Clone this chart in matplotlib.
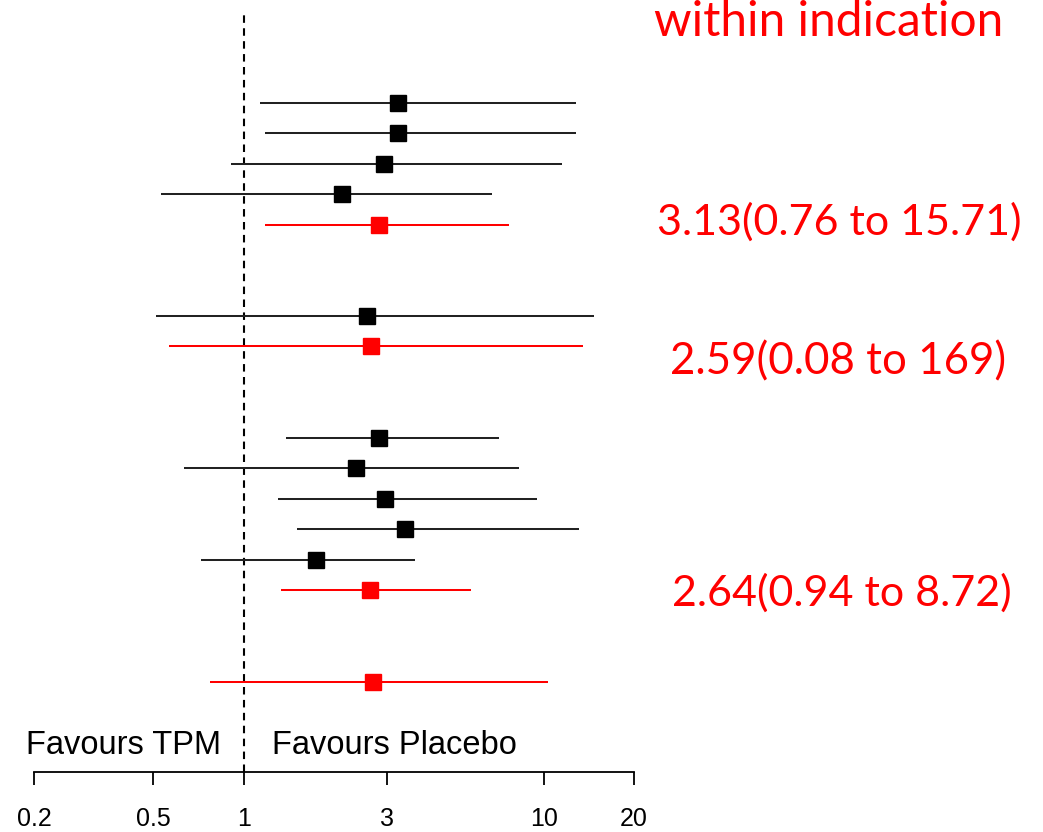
import matplotlib
matplotlib.use("Agg")
import matplotlib.pyplot as plt
import numpy as np

# ---- data ----
group_sizes = [4, 1, 5]          # studies per group, each followed by a pooled row
group1_est = [3.26, 3.26, 2.93, 2.13]
group1_lo = [1.13, 1.18, 0.91, 0.53]
group1_hi = [12.8, 12.8, 11.5, 6.74]
group1_pool = (2.82, 1.18, 7.68)

group2_est = [2.57]
group2_lo = [0.51]
group2_hi = [14.7]
group2_pool = (2.66, 0.564, 13.55)

group3_est = [2.82, 2.36, 2.96, 3.46, 1.74]
group3_lo = [1.38, 0.632, 1.30, 1.50, 0.72]
group3_hi = [7.08, 8.25, 9.52, 13.1, 3.73]
group3_pool = (2.63, 1.335, 5.72)

overall_pool = (2.70, 0.772, 10.36)

tick_values = [0.2, 0.5, 1, 3, 10, 20]
tick_labels = ["0.2", "0.5", "1", "3", "10", "20"]
header_text = "within indication"
group_texts = ["3.13(0.76 to 15.71)", "2.59(0.08 to 169)", "2.64(0.94 to 8.72)"]
left_label = "Favours TPM"
right_label = "Favours Placebo"

# ---- figure ----
W, H = 1043, 832
fig = plt.figure(figsize=(W / 100, H / 100), dpi=100)
ax_left = 34 / W
ax_w = 600 / W
ax_bottom = (H - 771.7) / H
ax_top = (H - 12) / H
ax = fig.add_axes([ax_left, ax_bottom, ax_w, ax_top - ax_bottom])

row_px0, row_step = 102.7, 30.47
k_top = (12 - row_px0) / row_step
k_bot = (771.7 - row_px0) / row_step

groups = [
    (group1_est, group1_lo, group1_hi, group1_pool),
    (group2_est, group2_lo, group2_hi, group2_pool),
    (group3_est, group3_lo, group3_hi, group3_pool),
]

LW = 1.45
MS = 12
k = 0
for est, lo, hi, pool in groups:
    for e, l, h in zip(est, lo, hi):
        ax.plot([l, h], [k, k], color="#222222", lw=LW, solid_capstyle="butt", zorder=2)
        ax.plot([e], [k], marker="s", ms=MS, color="black", mec="black", zorder=3)
        k += 1
    e, l, h = pool
    ax.plot([l, h], [k, k], color="#ff0000", lw=LW, solid_capstyle="butt", zorder=2)
    ax.plot([e], [k], marker="s", ms=MS, color="#ff0000", mec="#ff0000", zorder=3)
    k += 3
e, l, h = overall_pool
ax.plot([l, h], [k, k], color="#ff0000", lw=LW, solid_capstyle="butt", zorder=2)
ax.plot([e], [k], marker="s", ms=MS, color="#ff0000", mec="#ff0000", zorder=3)

ax.axvline(1, color="black", lw=1.5, dashes=(3.6, 2.6), zorder=1)

ax.set_xscale("log")
ax.set_xlim(0.2, 20)
ax.set_ylim(k_bot, k_top)
for s in ["top", "left", "right"]:
    ax.spines[s].set_visible(False)
ax.spines["bottom"].set_linewidth(1.3)
ax.set_yticks([])
ax.xaxis.set_minor_locator(matplotlib.ticker.NullLocator())
ax.set_xticks(tick_values)
ax.set_xticklabels(tick_labels, fontfamily="Liberation Sans", fontsize=18)
ax.tick_params(axis="x", length=9.5, width=1.3, pad=16, direction="out")

ax.text(221 / W, (H - 746) / H, left_label, transform=fig.transFigure,
        ha="right", va="center", fontfamily="Liberation Sans", fontsize=23.5)
ax.text(272 / W, (H - 746) / H, right_label, transform=fig.transFigure,
        ha="left", va="center", fontfamily="Liberation Sans", fontsize=23.5)

red_font = "Lato"
fig.text(829 / W, (H - 22) / H, header_text, ha="center", va="center",
         color="#ff0000", fontfamily=red_font, fontsize=34.5)
text_y = [222, 362, 593]
text_x = [839, 838, 842]
text_sizes = [31, 31.6, 31]
for t, xx, yy, fs in zip(group_texts, text_x, text_y, text_sizes):
    fig.text(xx / W, (H - yy) / H, t, ha="center", va="center",
             color="#ff0000", fontfamily=red_font, fontsize=fs)

fig.savefig("out.png", dpi=100)
